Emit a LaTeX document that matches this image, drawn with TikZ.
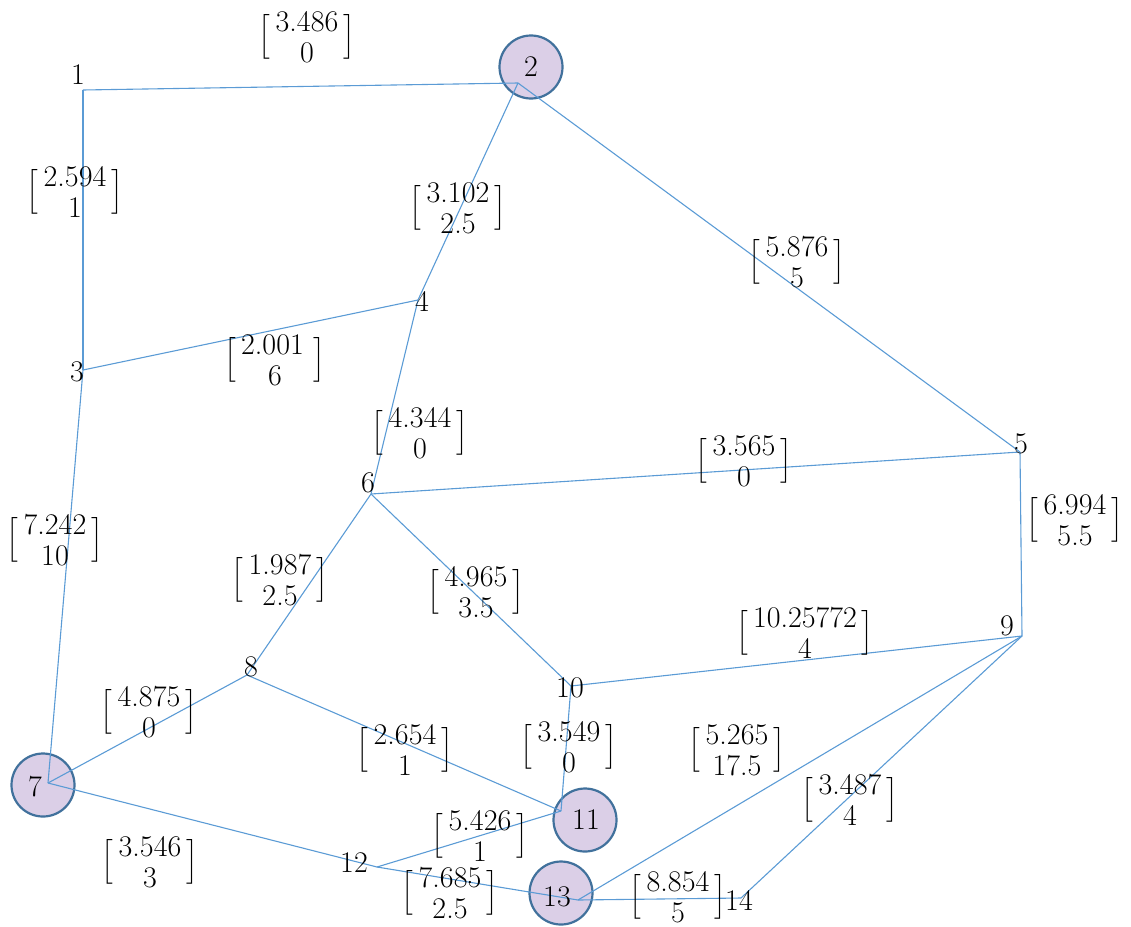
\documentclass[tikz,border=0pt]{standalone}
\usepackage{amsmath}
\definecolor{edgeblue}{RGB}{91,155,213}
\definecolor{discfill}{RGB}{219,207,231}
\definecolor{discline}{RGB}{65,113,156}
% a two-row bracketed weight, rows set 31pt apart
\newcommand{\edgew}[2]{$\delimiterfactor=850\delimitershortfall=12pt
  \left[\vcenter{\hbox{\,\vbox{\baselineskip=31pt\lineskiplimit=-100pt
  \halign{\hfil##\hfil\cr #1\cr #2\cr}}\,}}\right]$}
\tikzset{
  link/.style={draw=edgeblue, line width=1.1pt},
  disc/.style={circle, draw=discline, line width=2.2pt, fill=discfill,
               minimum size=63pt, inner sep=0pt},
  vlabel/.style={inner sep=0pt, font=\fontsize{30}{36}\selectfont},
  wlabel/.style={inner sep=0pt, font=\fontsize{30}{36}\selectfont},
}
\begin{document}
\begin{tikzpicture}[x=1pt, y=-1pt]
\useasboundingbox (0,0) rectangle (1131,926);

% highlighted vertices
\node[disc] (c2)  at (531,67)  {};
\node[disc] (c7)  at (43,785)  {};
\node[disc] (c11) at (585,820) {};
\node[disc] (c13) at (561,893) {};

% junction points of the network
\coordinate (j1)  at (83,90);
\coordinate (j2)  at (518,83);
\coordinate (j3)  at (83,370);
\coordinate (j4)  at (418,300);
\coordinate (j5)  at (1020,452);
\coordinate (j6)  at (371,494);
\coordinate (j7)  at (48,783);
\coordinate (j8)  at (247,675);
\coordinate (j9)  at (1022,636);
\coordinate (j10) at (571,686);
\coordinate (j11) at (561,811);
\coordinate (j12) at (377,867);
\coordinate (j13) at (578,900);
\coordinate (j14) at (741,898);

% links
\draw[link] (j1) -- (j2);
\draw[link] (j1) -- (j3);
\draw[link] (j2) -- (j4);
\draw[link] (j2) -- (j5);
\draw[link] (j3) -- (j4);
\draw[link] (j3) -- (j7);
\draw[link] (j4) -- (j6);
\draw[link] (j6) -- (j5);
\draw[link] (j5) -- (j9);
\draw[link] (j6) -- (j8);
\draw[link] (j6) -- (j10);
\draw[link] (j10) -- (j9);
\draw[link] (j10) -- (j11);
\draw[link] (j8) -- (j7);
\draw[link] (j8) -- (j11);
\draw[link] (j7) -- (j12);
\draw[link] (j12) -- (j11);
\draw[link] (j12) -- (j13);
\draw[link] (j13) -- (j9);
\draw[link] (j13) -- (j14);
\draw[link] (j14) -- (j9);

% vertex numbers
\node[vlabel] (t1)  at (78,75)   {1};
\node[vlabel] (t2)  at (c2)      {2};
\node[vlabel] (t3)  at (77,372)  {3};
\node[vlabel] (t4)  at (422,301) {4};
\node[vlabel] (t5)  at (1021,444) {5};
\node[vlabel] (t6)  at (368,483) {6};
\node[vlabel] (t7)  at (35,787)  {7};
\node[vlabel] (t8)  at (251,667) {8};
\node[vlabel] (t9)  at (1007,626) {9};
\node[vlabel] (t10) at (570,688) {10};
\node[vlabel] (t11) at (586,820) {11};
\node[vlabel] (t12) at (354,863) {12};
\node[vlabel] (t13) at (557,897) {13};
\node[vlabel] (t14) at (739,900) {14};

% link weights
\node[wlabel] (w12)   at (307,37)  {\edgew{3.486}{0}};
\node[wlabel] (w13)   at (75,192)  {\edgew{2.594}{1}};
\node[wlabel] (w24)   at (458,208) {\edgew{3.102}{2.5}};
\node[wlabel] (w25)   at (797,262) {\edgew{5.876}{5}};
\node[wlabel] (w34)   at (275,360) {\edgew{2.001\,}{6}};
\node[wlabel] (w46)   at (420,433) {\edgew{4.344}{0}};
\node[wlabel] (w65)   at (744,461) {\edgew{3.565}{0}};
\node[wlabel] (w59)   at (1075,520) {\edgew{6.994}{5.5}};
\node[wlabel] (w37)   at (55,540)  {\edgew{7.242}{10}};
\node[wlabel] (w68)   at (280,580) {\edgew{1.987}{2.5}};
\node[wlabel] (w610)  at (476,592) {\edgew{4.965}{3.5}};
\node[wlabel] (w109)  at (805,633) {\edgew{10.25772}{4}};
\node[wlabel] (w87)   at (149,712) {\edgew{4.875}{0}};
\node[wlabel] (w811)  at (405,750) {\edgew{2.654}{1}};
\node[wlabel] (w1011) at (569,747) {\edgew{3.549}{0}};
\node[wlabel] (w139)  at (737,750) {\edgew{5.265}{17.5}};
\node[wlabel] (w149)  at (850,800) {\edgew{3.487}{4}};
\node[wlabel] (w1211) at (480,836) {\edgew{5.426}{1}};
\node[wlabel] (w712)  at (150,862) {\edgew{3.546}{3}};
\node[wlabel] (w1213) at (450,893) {\edgew{7.685}{2.5}};
\node[wlabel] (w1314) at (678,897) {\edgew{8.854}{5}};
\end{tikzpicture}
\end{document}
